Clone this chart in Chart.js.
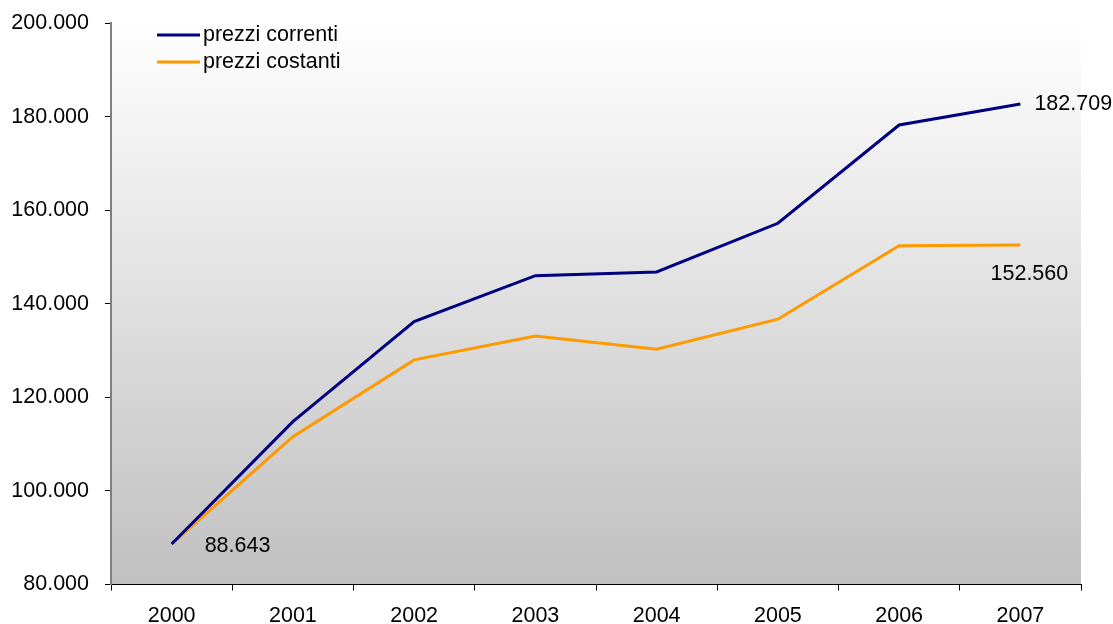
<!DOCTYPE html>
<html lang="it">
<head>
  <meta charset="UTF-8" />
  <title>Prezzi correnti e costanti 2000-2007</title>
  <style>
    html, body { margin: 0; padding: 0; background: #fff; }
    #wrap { width: 1113px; height: 624px; position: relative; }
  </style>
</head>
<body>
  <div id="wrap"><canvas id="grafico" width="1113" height="624"></canvas></div>

  <script src="https://cdn.jsdelivr.net/npm/chart.js"></script>
  <script>
    const anni = ['2000', '2001', '2002', '2003', '2004', '2005', '2006', '2007'];
    const prezziCorrenti = [88643, 114800, 136200, 146000, 146800, 157200, 178200, 182709];
    const prezziCostanti = [88643, 111600, 128000, 133100, 130300, 136700, 152400, 152560];
    const etichetteSerie = ['prezzi correnti', 'prezzi costanti'];

    const FONT = '"Liberation Sans", Arial, sans-serif';
    const DIM = 21.5;

    // separatore delle migliaia all'italiana: 182709 -> "182.709"
    function formatta(n) {
      return String(Math.round(n)).replace(/\B(?=(\d{3})+(?!\d))/g, '.');
    }

    // sfondo dell'area del grafico: sfumatura dal bianco al grigio
    const sfondo = {
      id: 'sfondo',
      beforeDraw(chart) {
        const { ctx, chartArea: a } = chart;
        const g = ctx.createLinearGradient(0, a.top, 0, a.bottom);
        g.addColorStop(0, '#ffffff');
        g.addColorStop(1, '#c0c0c0');
        ctx.save();
        ctx.fillStyle = g;
        ctx.fillRect(a.left, a.top, a.right - a.left, a.bottom - a.top);
        ctx.restore();
      }
    };

    // legenda dentro l'area, in alto a sinistra
    const legenda = {
      id: 'legenda',
      afterDraw(chart) {
        const { ctx, chartArea: a } = chart;
        ctx.save();
        ctx.font = DIM + 'px ' + FONT;
        ctx.textBaseline = 'middle';
        chart.data.datasets.forEach((ds, i) => {
          const y = a.top + 12 + i * 27;
          ctx.strokeStyle = ds.borderColor;
          ctx.lineWidth = 3;
          ctx.beginPath();
          ctx.moveTo(a.left + 46, y);
          ctx.lineTo(a.left + 89, y);
          ctx.stroke();
          ctx.fillStyle = '#000';
          ctx.fillText(ds.label, a.left + 92, y);
        });
        ctx.restore();
      }
    };

    // valori scritti accanto a primo e ultimo punto
    const etichette = [
      { serie: 0, indice: 7, dx: 14, dy: 0, allinea: 'left' },
      { serie: 1, indice: 7, dx: 9, dy: 29, allinea: 'center' },
      { serie: 1, indice: 0, dx: 33, dy: 2, allinea: 'left' }
    ];
    const valoriPunti = {
      id: 'valoriPunti',
      afterDatasetsDraw(chart) {
        const { ctx } = chart;
        ctx.save();
        ctx.font = DIM + 'px ' + FONT;
        ctx.fillStyle = '#000';
        ctx.textBaseline = 'middle';
        etichette.forEach(e => {
          const p = chart.getDatasetMeta(e.serie).data[e.indice];
          const v = chart.data.datasets[e.serie].data[e.indice];
          ctx.textAlign = e.allinea;
          ctx.fillText(formatta(v), p.x + e.dx, p.y + e.dy);
        });
        ctx.restore();
      }
    };

    new Chart(document.getElementById('grafico'), {
      type: 'line',
      data: {
        labels: anni,
        datasets: [
          {
            label: etichetteSerie[0],
            data: prezziCorrenti,
            borderColor: '#000080',
            borderWidth: 3,
            pointRadius: 0,
            tension: 0
          },
          {
            label: etichetteSerie[1],
            data: prezziCostanti,
            borderColor: '#FF9900',
            borderWidth: 3,
            pointRadius: 0,
            tension: 0
          }
        ]
      },
      options: {
        responsive: false,
        animation: false,
        layout: { padding: { top: 23, right: 32, left: 0, bottom: 0 } },
        plugins: {
          legend: { display: false },
          tooltip: { enabled: false }
        },
        scales: {
          x: {
            offset: true,
            grid: { offset: true, drawOnChartArea: false, tickLength: 6, color: '#000' },
            border: { color: '#000', width: 1 },
            ticks: { color: '#000', font: { family: FONT, size: DIM }, padding: 13, maxRotation: 0 },
            afterFit(scale) { scale.height = 39.5; }
          },
          y: {
            min: 80000,
            max: 200000,
            grid: { drawOnChartArea: false, tickLength: 6, color: '#000' },
            border: { color: '#808080', width: 2 },
            ticks: {
              stepSize: 20000,
              color: '#000',
              font: { family: FONT, size: DIM },
              padding: 16,
              callback: v => formatta(v)
            },
            afterFit(scale) {
              scale.width = 111;
              scale.paddingTop = 0;
              scale.paddingBottom = 0;
            }
          }
        }
      },
      plugins: [sfondo, legenda, valoriPunti]
    });
  </script>
</body>
</html>
